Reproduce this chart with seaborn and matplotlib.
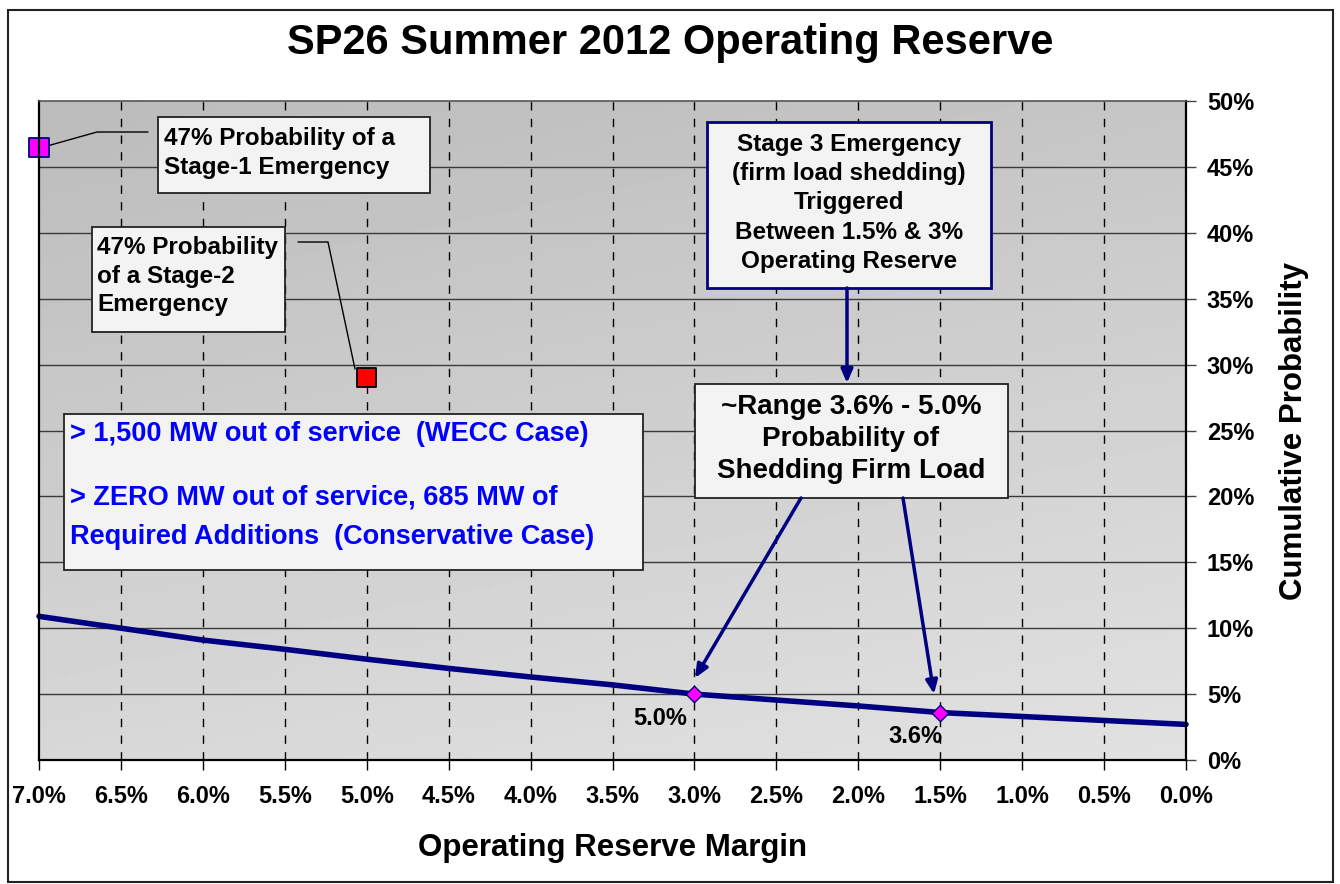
import matplotlib
matplotlib.use("Agg")
import matplotlib.pyplot as plt
import matplotlib.patches as mpatches
from matplotlib.ticker import FuncFormatter, FixedLocator
import seaborn as sns
import numpy as np
import pandas as pd

# cumulative probability curve
reserve_margin = [7.0, 6.5, 6.0, 5.5, 5.0, 4.5, 4.0, 3.5, 3.0, 2.5, 2.0, 1.5, 1.0, 0.5, 0.0]
cum_probability = [10.9, 10.0, 9.1, 8.4, 7.65, 6.95, 6.3, 5.7, 5.0, 4.55, 4.1, 3.6, 3.3, 3.0, 2.7]

# highlighted points on the curve
key_margin = [3.0, 1.5]
key_prob = [5.0, 3.6]
key_labels = ["5.0%", "3.6%"]

# emergency stage markers
stage_margin = [7.0, 5.0]
stage_prob = [46.5, 29.0]
stage_names = ["Stage-1", "Stage-2"]
stage_colors = {"Stage-1": "#ff00ff", "Stage-2": "#ff0000"}
stage_edges = ["#000080", "#000000"]

x_tick_values = [7.0, 6.5, 6.0, 5.5, 5.0, 4.5, 4.0, 3.5, 3.0, 2.5, 2.0, 1.5, 1.0, 0.5, 0.0]
y_tick_values = [0, 5, 10, 15, 20, 25, 30, 35, 40, 45, 50]

title = "SP26 Summer 2012 Operating Reserve"
x_title = "Operating Reserve Margin"
y_title = "Cumulative Probability"

sns.set_style("white")
plt.rcParams['font.family'] = ['Liberation Sans', 'DejaVu Sans']
plt.rcParams['font.weight'] = 'bold'
plt.rcParams['axes.labelweight'] = 'bold'
for key in ['text.color', 'axes.labelcolor', 'xtick.color', 'ytick.color']:
    plt.rcParams[key] = 'black'

W, H = 1340, 884
L, R, T, B = 39, 1186, 101, 760
fig = plt.figure(figsize=(W / 100, H / 100), dpi=100)
ax = fig.add_axes([L / W, 1 - B / H, (R - L) / W, (B - T) / H])


def axf(x, y):
    # pixel position in the picture -> axes fraction
    return (x - L) / (R - L), (B - y) / (B - T)


# grey gradient background of the plot area
gy, gx = np.mgrid[0:1:200j, 0:1:200j]
shade = 0.735 + 0.11 * gy + 0.04 * gx
ax.imshow(shade, cmap='gray', vmin=0, vmax=1, extent=[0, 1, 0, 1],
          transform=ax.transAxes, aspect='auto', origin='upper', zorder=0)

# gridlines
for yv in y_tick_values[1:-1]:
    ax.axhline(yv, color='#3a3a3a', lw=1, zorder=1)
for xv in x_tick_values[1:-1]:
    ax.axvline(xv, color='black', lw=1, ls=(0, (6, 6)), zorder=1)

# curve
curve = pd.DataFrame({'margin': reserve_margin, 'prob': cum_probability})
sns.lineplot(data=curve, x='margin', y='prob', color='#000080', lw=4,
             ax=ax, zorder=3, clip_on=False)

keys = pd.DataFrame({'margin': key_margin, 'prob': key_prob})
sns.scatterplot(data=keys, x='margin', y='prob', marker='D', s=70,
                color='#ff00ff', edgecolor='#000080', linewidth=1,
                ax=ax, zorder=4, clip_on=False)
for xm, yp, lab, dx, dy in zip(key_margin, key_prob, key_labels, [0.21, 0.15], [-1.85, -1.8]):
    ax.text(xm + dx, yp + dy, lab, fontsize=17, ha='center', va='center', zorder=4)

stages = pd.DataFrame({'margin': stage_margin, 'prob': stage_prob, 'stage': stage_names})
sns.scatterplot(data=stages, x='margin', y='prob', hue='stage', palette=stage_colors,
                marker='s', s=190, edgecolor=stage_edges, linewidth=1.3,
                legend=False, ax=ax, zorder=6, clip_on=False)

ax.set_xlim(7.0, 0.0)
ax.set_ylim(0, 50)

# leader lines for the stage boxes
ax.plot(*zip(axf(40, 148), axf(97, 132), axf(148, 132)), transform=ax.transAxes,
        color='black', lw=1, zorder=5)
ax.plot(*zip(axf(298, 242), axf(328, 242), axf(355, 369)), transform=ax.transAxes,
        color='black', lw=1, zorder=5)


def box(x0, y0, x1, y1, edge='#222222', lw=1.3):
    bx, by = axf(x0, y1)
    w = (x1 - x0) / (R - L)
    h = (y1 - y0) / (B - T)
    ax.add_patch(mpatches.Rectangle((bx, by), w, h, transform=ax.transAxes,
                                    facecolor='#f3f3f3', edgecolor=edge, lw=lw, zorder=5))


box(158, 117, 430, 193)
ax.text(*axf(164, 153), "47% Probability of a\nStage-1 Emergency", transform=ax.transAxes,
        fontsize=17.5, ha='left', va='center', linespacing=1.35, zorder=6)

box(92, 227, 285, 332)
ax.text(*axf(97, 276), "47% Probability\nof a Stage-2\nEmergency", transform=ax.transAxes,
        fontsize=17.5, ha='left', va='center', linespacing=1.3, zorder=6)

box(707, 122, 991, 288, edge='#000080', lw=2)
ax.text(*axf(849, 203), "Stage 3 Emergency\n(firm load shedding)\nTriggered\nBetween 1.5% & 3%\nOperating Reserve",
        transform=ax.transAxes, fontsize=17.5, ha='center', va='center', linespacing=1.34, zorder=6)

box(695, 384, 1008, 498)
ax.text(*axf(851, 439), "~Range 3.6% - 5.0%\nProbability of\nShedding Firm Load",
        transform=ax.transAxes, fontsize=20, ha='center', va='center', linespacing=1.3, zorder=6)

box(64, 414, 643, 570)
blue_lines = ["> 1,500 MW out of service  (WECC Case)",
              "> ZERO MW out of service, 685 MW of",
              "Required Additions  (Conservative Case)"]
for line, yp in zip(blue_lines, [434, 497, 537]):
    ax.text(*axf(70, yp), line, transform=ax.transAxes, fontsize=19.5, color='#0000ff',
            ha='left', va='center', zorder=6)

# arrows
arrow = dict(arrowstyle='-|>,head_length=0.8,head_width=0.35', color='#000080', lw=2.5,
             shrinkA=0, shrinkB=0)
ax.annotate('', xy=axf(847, 383), xytext=axf(847, 288), xycoords='axes fraction',
            textcoords='axes fraction', arrowprops=arrow, zorder=7)
ax.annotate('', xy=axf(695, 678), xytext=axf(801, 498), xycoords='axes fraction',
            textcoords='axes fraction', arrowprops=arrow, zorder=7)
ax.annotate('', xy=axf(934, 694), xytext=axf(903, 498), xycoords='axes fraction',
            textcoords='axes fraction', arrowprops=arrow, zorder=7)

# axes styling
ax.xaxis.set_major_locator(FixedLocator(x_tick_values))
ax.yaxis.set_major_locator(FixedLocator(y_tick_values))
ax.xaxis.set_major_formatter(FuncFormatter(lambda v, p: f"{v:.1f}%"))
ax.yaxis.set_major_formatter(FuncFormatter(lambda v, p: f"{v:.0f}%"))
ax.yaxis.tick_right()
ax.yaxis.set_label_position('right')
ax.tick_params(axis='x', direction='out', length=7, width=1, color='black', pad=11,
               labelsize=17, bottom=True)
ax.tick_params(axis='y', direction='out', length=7, width=1, color='#444444', pad=8,
               labelsize=17, right=True, left=False)
for side in ['left', 'bottom', 'right']:
    ax.spines[side].set_color('black')
    ax.spines[side].set_linewidth(1.6)
ax.spines['top'].set_color('#555555')
ax.spines['top'].set_linewidth(1.2)
for sp in ax.spines.values():
    sp.set_zorder(8)

ax.set_xlabel(x_title, fontsize=22.5, fontweight='bold', labelpad=18)
ax.set_ylabel(y_title, fontsize=22.5, fontweight='bold', labelpad=18)

fig.text(0.5, 1 - 43 / H, title, fontsize=30, fontweight='bold', ha='center', va='center')

# outer frame of the chart
fig.patches.append(mpatches.Rectangle((8 / W, 1 - 882 / H), (1333 - 8) / W, (882 - 10) / H,
                                      transform=fig.transFigure, fill=False,
                                      edgecolor='#222222', lw=1.5))

fig.savefig("out.png", dpi=100)
